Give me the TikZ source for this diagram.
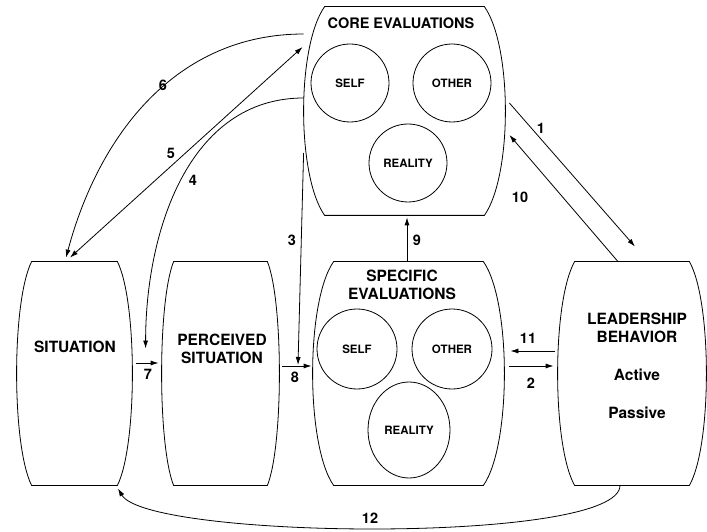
\documentclass[tikz,border=0pt]{standalone}
\usepackage{fontspec}
\setmainfont{TeX Gyre Heros}
\usetikzlibrary{arrows.meta,shapes.geometric}

% barrel outline round a box node: #1 node, #2 inset of the flat edges
\newcommand{\barrelbox}[2]{%
  \draw ([xshift=#2pt]#1.north west) -- ([xshift=-#2pt]#1.north east)
    .. controls +(4*#2/3,-40) and +(4*#2/3,40) .. ([xshift=-#2pt]#1.south east)
    -- ([xshift=#2pt]#1.south west)
    .. controls +(-4*#2/3,40) and +(-4*#2/3,-40) .. cycle;}

\begin{document}
\begin{tikzpicture}[x=1pt,y=1pt,line width=0.8pt,
    box/.style={rectangle,minimum height=223pt,inner sep=0pt},
    evalcircle/.style={circle,draw,minimum size=78pt,inner sep=0pt,font=\fontsize{11.5}{13}\selectfont\bfseries},
    title/.style={align=center,font=\fontsize{15.5}{18}\selectfont\bfseries},
    num/.style={font=\fontsize{14.5}{16}\selectfont\bfseries},
    arr/.style={-{Latex[length=8pt,width=5pt]}},
    dblarr/.style={{Latex[length=8pt,width=5pt]}-{Latex[length=8pt,width=5pt]}}]
    \useasboundingbox (0,0) rectangle (707,531);

    \node[box,minimum width=201pt,minimum height=208pt] (core) at (404.5,420)   {};
    \node[box,minimum width=115pt]                      (sit)  at (74.5,157.5)  {};
    \node[box,minimum width=117pt]                      (perc) at (220.5,157.5) {};
    \node[box,minimum width=191pt]                      (spec) at (408.5,157.5) {};
    \node[box,minimum width=148pt]                      (lead) at (632,157.5)   {};
    \barrelbox{core}{21}
    \barrelbox{sit}{15}
    \barrelbox{perc}{12}
    \barrelbox{spec}{21}
    \barrelbox{lead}{17}

    \node[num] (coretitle) at (401,508) {CORE EVALUATIONS};
    \node[evalcircle] (cself)  at (350,448) {SELF};
    \node[evalcircle] (cother) at (452,448) {OTHER};
    \node[evalcircle] (creal)  at (408,368) {REALITY};

    \node[title] (sittitle)  at (75,184)    {SITUATION};
    \node[title] (perctitle) at (222,182.5) {PERCEIVED\\SITUATION};
    \node[title] (spectitle) at (402,246)   {SPECIFIC\\EVALUATIONS};
    \node[evalcircle,minimum size=80pt] (sself)  at (357,182) {SELF};
    \node[evalcircle,minimum size=80pt] (sother) at (452,182) {OTHER};
    \node[evalcircle,ellipse,minimum width=82pt,minimum height=96pt] (sreal) at (409,101) {REALITY};
    \node[title] (leadtitle) at (637,203) {LEADERSHIP\\BEHAVIOR};
    \node[title] (active)    at (637,156) {Active};
    \node[title] (passive)   at (637,118) {Passive};

    \coordinate (j3) at (298,166);
    \draw[arr,shorten <=4pt,shorten >=3pt] ([yshift=10.5pt]sit.east) -- ([yshift=10.5pt]perc.west);
    \draw[arr,shorten <=3pt,shorten >=1pt] ([yshift=7.5pt]perc.east) -- ([yshift=7.5pt]spec.west);
    \draw[arr,shorten <=5pt,shorten >=4pt] ([yshift=7.5pt]spec.east) -- ([yshift=7.5pt]lead.west);
    \draw[arr,shorten <=3pt,shorten >=6pt] ([yshift=22.5pt]lead.west) -- ([yshift=22.5pt]spec.east);
    \draw[arr,shorten >=2pt] ([xshift=-1.5pt]spec.north) -- ([xshift=-1.5pt]spec.north |- core.south);
    \draw[arr] ([yshift=-42pt]core.west) -- (j3);
    \draw[arr] ([yshift=13pt]core.west) to[out=180,in=90] ([xshift=-16pt,yshift=25pt]perc.west);
    \draw[arr] ([yshift=77pt]core.west) to[out=180,in=75] ([xshift=-8.5pt,yshift=4pt]sit.north);
    \draw[dblarr] ([xshift=-4.5pt,yshift=4pt]sit.north) -- ([xshift=-1pt,yshift=64pt]core.west);
    \draw[arr] ([xshift=4pt,yshift=8pt]core.east) -- ([xshift=3pt,yshift=15pt]lead.north);
    \draw[arr] ([xshift=-14pt]lead.north) -- ([xshift=4pt,yshift=-24pt]core.east);
    \draw[arr] ([xshift=-12pt]lead.south) to[out=-90,in=-60,looseness=0.3] ([xshift=43.5pt,yshift=-3pt]sit.south);

    \node[num] (n1)  at (541,403) {1};
    \node[num] (n2)  at (531,148) {2};
    \node[num] (n3)  at (292,291) {3};
    \node[num] (n4)  at (193,351) {4};
    \node[num] (n5)  at (171,378) {5};
    \node[num] (n6)  at (163,446) {6};
    \node[num] (n7)  at (148,157) {7};
    \node[num] (n8)  at (295,154) {8};
    \node[num] (n9)  at (417,291) {9};
    \node[num] (n10) at (520,334) {10};
    \node[num] (n11) at (528,193) {11};
    \node[num] (n12) at (370,13)  {12};
\end{tikzpicture}
\end{document}
